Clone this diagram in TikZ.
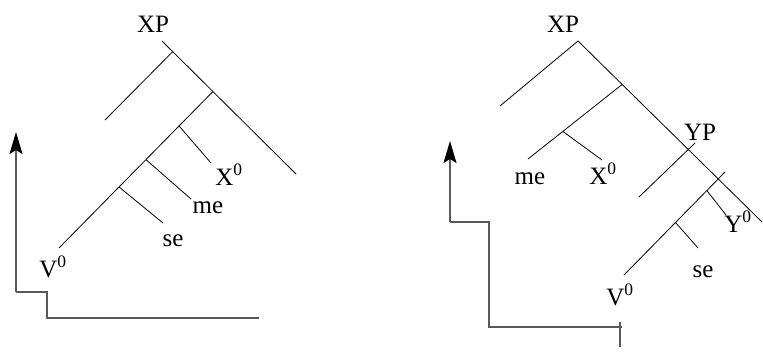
\documentclass[tikz,border=0pt]{standalone}
\usepackage{fontspec}
\setmainfont{Liberation Serif}
\usetikzlibrary{arrows.meta,calc}

\begin{document}
\begin{tikzpicture}[x=1pt,y=-1pt,font=\fontsize{25}{30}\selectfont,
  br/.style={line width=0.8pt},
  mv/.style={line width=1.3pt,black!65},
  tip/.style={-{Stealth[length=22pt,width=13pt,inset=4pt,black]}},
  lab/.style={anchor=base,inner sep=0pt}]
\useasboundingbox (0,0) rectangle (763,356);
% left tree
\coordinate (lt) at (162,41); \coordinate (lr) at (296,174);
\coordinate (lb) at ($(lt)!0.08!(lr)$); \coordinate (lbe) at (105,120);
\coordinate (ls) at ($(lt)!0.38!(lr)$); \coordinate (lv) at (59,248);
\coordinate (lx) at ($(ls)!0.22!(lv)$); \coordinate (lxe) at (211,163);
\coordinate (lm) at ($(ls)!0.435!(lv)$); \coordinate (lme) at (191,199);
\coordinate (lse) at ($(ls)!0.61!(lv)$); \coordinate (lsee) at (163,223);
\draw[br] (lt) -- (lr); \draw[br] (lb) -- (lbe); \draw[br] (ls) -- (lv);
\draw[br] (lx) -- (lxe); \draw[br] (lm) -- (lme); \draw[br] (lse) -- (lsee);
\node[lab] (lXP) at (153,32) {XP};
\node[lab] (lX0) at (229,185) {X\textsuperscript{0}};
\node[lab] (lME) at (208,213) {me};
\node[lab] (lSE) at (173,246) {se};
\node[lab] (lV0) at (53,277) {V\textsuperscript{0}};
\coordinate (la) at (259,318); \coordinate (la1) at (47,318);
\coordinate (la2) at (47,292); \coordinate (la3) at (16,292);
\coordinate (la4) at (16,132);
\draw[mv] (la) -- (la1) -- (la2) -- (la3);
\draw[mv,tip] (la3) -- (la4);
% right tree
\coordinate (rt) at (578,41); \coordinate (rr) at (762,222);
\coordinate (rbe) at (500,106);
\coordinate (rn) at ($(rt)!0.24!(rr)$); \coordinate (rne) at (528,159);
\coordinate (rx) at ($(rn)!0.63!(rne)$); \coordinate (rxe) at (602,160);
\coordinate (ry1) at (695,143); \coordinate (ry2) at (639,197);
\coordinate (rs) at (725,172); \coordinate (rv) at (624,275);
\coordinate (ryb) at ($(rs)!0.18!(rv)$); \coordinate (rybe) at (726,215);
\coordinate (rsb) at ($(rs)!0.49!(rv)$); \coordinate (rsbe) at (698,248);
\draw[br] (rt) -- (rr); \draw[br] (rt) -- (rbe); \draw[br] (rn) -- (rne);
\draw[br] (rx) -- (rxe); \draw[br] (ry1) -- (ry2); \draw[br] (rs) -- (rv);
\draw[br] (ryb) -- (rybe); \draw[br] (rsb) -- (rsbe);
\node[lab] (rXP) at (563,32) {XP};
\node[lab] (rYP) at (700,140) {YP};
\node[lab] (rME) at (530,184) {me};
\node[lab] (rX0) at (603,184) {X\textsuperscript{0}};
\node[lab] (rY0) at (738,232) {Y\textsuperscript{0}};
\node[lab] (rSE) at (703,277) {se};
\node[lab] (rV0) at (620,305) {V\textsuperscript{0}};
\coordinate (ra) at (622,327); \coordinate (ra1) at (489,327);
\coordinate (ra2) at (489,222); \coordinate (ra3) at (450,222);
\coordinate (ra4) at (450,141);
\coordinate (rk1) at (620,322); \coordinate (rk2) at (620,347);
\draw[mv] (ra) -- (ra1) -- (ra2) -- (ra3);
\draw[mv,tip] (ra3) -- (ra4);
\draw[mv] (rk1) -- (rk2);
\end{tikzpicture}
\end{document}
